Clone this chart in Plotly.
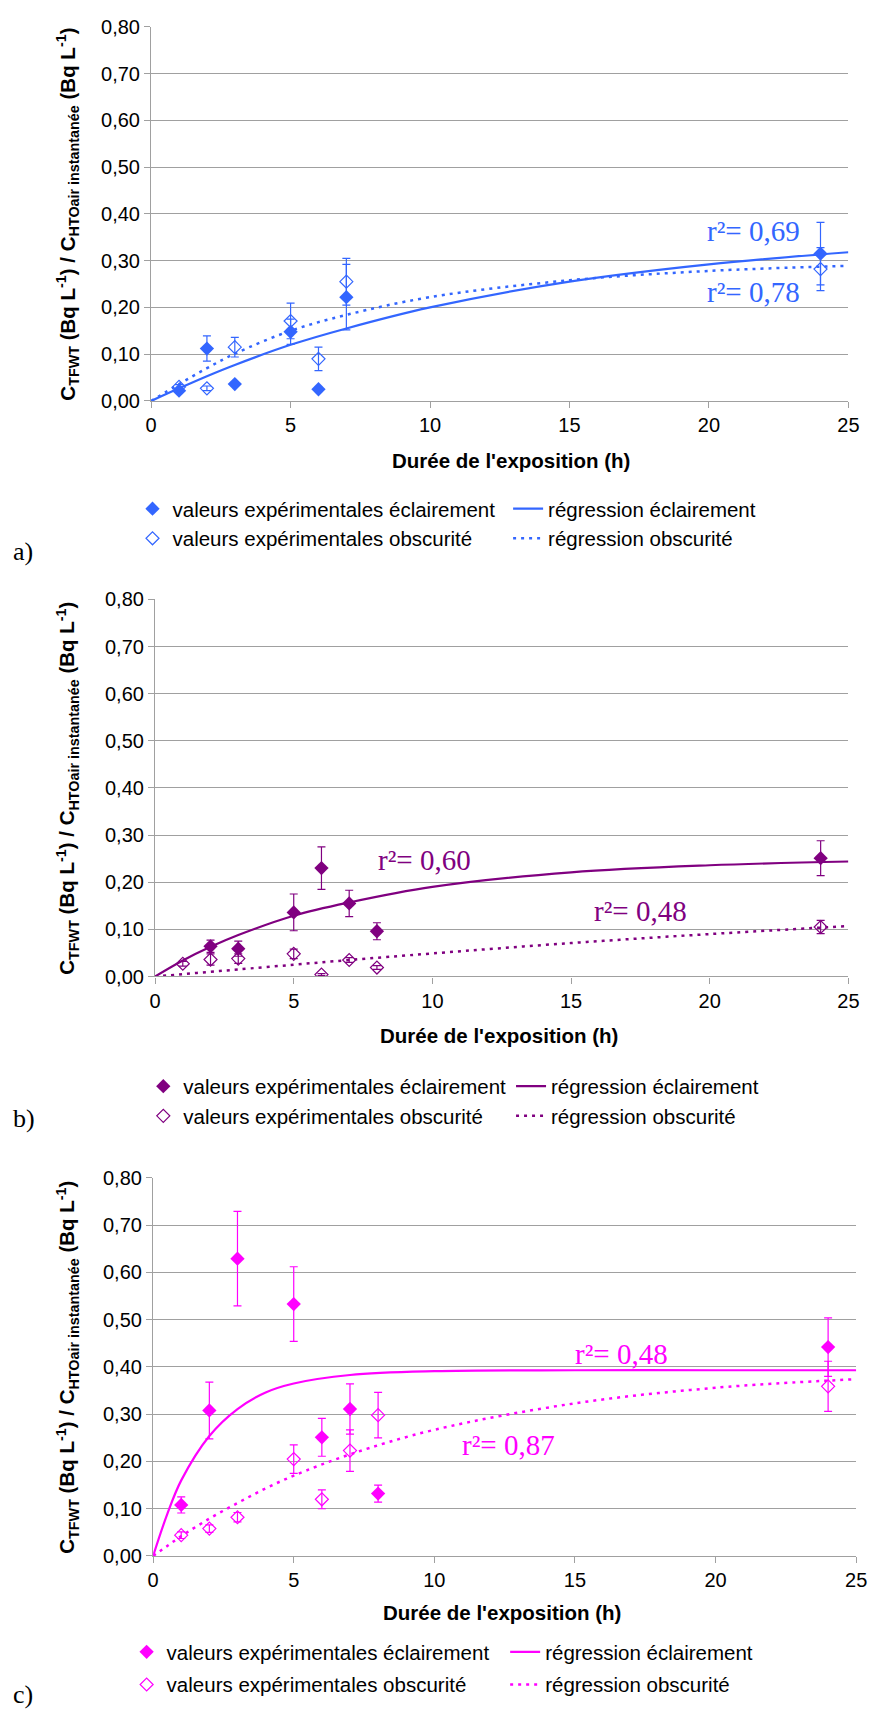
import plotly.graph_objects as go

# ---------------- data ----------------
# Panel a
a_x_light = [1, 2, 3, 5, 6, 7, 24]
a_y_light = [0.022, 0.112, 0.036, 0.148, 0.025, 0.222, 0.315]
a_e_light = [0.004, 0.027, 0.004, 0.027, 0.003, 0.070, 0.067]
a_x_dark = [1, 2, 3, 5, 6, 7, 24]
a_y_dark = [0.030, 0.027, 0.115, 0.171, 0.090, 0.255, 0.282]
a_e_dark = [0.005, 0.005, 0.021, 0.038, 0.025, 0.050, 0.046]

# Panel b
b_x_light = [2, 3, 5, 6, 7, 8, 24]
b_y_light = [0.064, 0.059, 0.136, 0.230, 0.155, 0.096, 0.251]
b_e_light = [0.013, 0.016, 0.039, 0.045, 0.028, 0.018, 0.037]
b_x_dark = [1, 2, 3, 5, 6, 7, 8, 24]
b_y_dark = [0.027, 0.036, 0.038, 0.048, 0.004, 0.035, 0.019, 0.105]
b_e_dark = [0.005, 0.012, 0.010, 0.010, 0.002, 0.005, 0.004, 0.014]

# Panel c
c_x_light = [1, 2, 3, 5, 6, 7, 8, 24]
c_y_light = [0.108, 0.308, 0.629, 0.533, 0.251, 0.311, 0.132, 0.442]
c_e_light = [0.017, 0.060, 0.100, 0.079, 0.040, 0.053, 0.018, 0.062]
c_x_dark = [1, 2, 3, 5, 6, 7, 8, 24]
c_y_dark = [0.044, 0.058, 0.082, 0.205, 0.120, 0.223, 0.298, 0.359]
c_e_dark = [0.007, 0.008, 0.010, 0.030, 0.020, 0.044, 0.048, 0.053]

# Regression curves
reg_t = [0, 1, 2, 3, 5, 7, 10, 15, 20, 25]
a_reg_light = [0, 0.027, 0.053, 0.077, 0.120, 0.155, 0.200, 0.255, 0.292, 0.318]
a_reg_dark = [0, 0.036, 0.070, 0.101, 0.150, 0.184, 0.222, 0.258, 0.278, 0.289]
b_reg_light = [0, 0.034, 0.063, 0.088, 0.129, 0.157, 0.190, 0.221, 0.236, 0.244]
b_reg_dark = [0, 0.005, 0.010, 0.015, 0.025, 0.035, 0.049, 0.071, 0.090, 0.107]
c_reg_t = [0, 0.5, 1, 2, 3, 4, 5, 7, 10, 15, 20, 25]
c_reg_light = [0, 0.088, 0.160, 0.254, 0.311, 0.346, 0.365, 0.383, 0.391, 0.393, 0.393, 0.393]
c_reg_dark = [0, 0.021, 0.042, 0.079, 0.112, 0.143, 0.170, 0.215, 0.267, 0.323, 0.356, 0.374]

r2_labels = {
    "a": ["0,69", "0,78"],
    "b": ["0,60", "0,48"],
    "c": ["0,48", "0,87"],
}

x_ticks = [0, 5, 10, 15, 20, 25]
y_ticks = [0, 0.1, 0.2, 0.3, 0.4, 0.5, 0.6, 0.7, 0.8]

names = ["valeurs expérimentales éclairement", "régression éclairement",
         "valeurs expérimentales obscurité", "régression obscurité"]

# ---------------- layout geometry ----------------
W, H = 879, 1721
def py(p):
    return 1 - p / H

panels = [
    dict(key="a", color="#3366FF", xl=148, xr=859, yt=16, yb=395,
         xs=a_x_light, ys=a_y_light, es=a_e_light,
         xo=a_x_dark, yo=a_y_dark, eo=a_e_dark,
         rt=reg_t, rl=a_reg_light, rd=a_reg_dark,
         ann=[(23.35, 0.363, "right"), (23.35, 0.232, "right")], titlex=515, titley=455,
         col1=169, col2=552, row1=500, gap=0, lab_y=547),
    dict(key="b", color="#800080", xl=152, xr=859, yt=596, yb=978,
         xs=b_x_light, ys=b_y_light, es=b_e_light,
         xo=b_x_dark, yo=b_y_dark, eo=b_e_dark,
         rt=reg_t, rl=b_reg_light, rd=b_reg_dark,
         ann=[(9.7, 0.247, "center"), (19.27, 0.138, "right")], titlex=503, titley=1038,
         col1=180, col2=555, row1=1085, gap=0, lab_y=1122),
    dict(key="c", color="#FF00FF", xl=150, xr=867, yt=1182, yb=1565,
         xs=c_x_light, ys=c_y_light, es=c_e_light,
         xo=c_x_dark, yo=c_y_dark, eo=c_e_dark,
         rt=c_reg_t, rl=c_reg_light, rd=c_reg_dark,
         ann=[(18.38, 0.428, "right"), (14.37, 0.234, "right")], titlex=506, titley=1622,
         col1=163, col2=549, row1=1658, gap=3, lab_y=1705),
]

fig = go.Figure()
annotations = []
layout = {}

grid_col = "#A0A0A0"
sans = "Liberation Sans, Arial, sans-serif"
serif = "Liberation Serif, Times New Roman, serif"
tick_font = dict(family=sans, size=20, color="#000000")

for i, p in enumerate(panels):
    n = "" if i == 0 else str(i + 1)
    xa, ya = "x" + n, "y" + n
    la = "legend" + ("" if i == 0 else str(2 * i + 1))
    lb = "legend" + str(2 * i + 2)
    col = p["color"]
    fig.add_trace(go.Scatter(
        x=p["xs"], y=p["ys"], mode="markers", name=names[0], xaxis=xa, yaxis=ya,
        legend=la, legendgroup=p["key"] + "1",
        marker=dict(symbol="diamond", size=11, color=col),
        error_y=dict(type="data", array=p["es"], color=col, thickness=1.2, width=4)))
    fig.add_trace(go.Scatter(
        x=p["xo"], y=p["yo"], mode="markers", name=names[2], xaxis=xa, yaxis=ya,
        legend=la, legendgroup=p["key"] + "2",
        marker=dict(symbol="diamond-open", size=10, color=col, line=dict(width=1.2, color=col)),
        error_y=dict(type="data", array=p["eo"], color=col, thickness=1.2, width=4)))
    fig.add_trace(go.Scatter(
        x=p["rt"], y=p["rl"], mode="lines", name=names[1], xaxis=xa, yaxis=ya,
        legend=lb, legendgroup=p["key"] + "3", line=dict(color=col, width=2.2, shape="spline")))
    fig.add_trace(go.Scatter(
        x=p["rt"], y=p["rd"], mode="lines", name=names[3], xaxis=xa, yaxis=ya,
        legend=lb, legendgroup=p["key"] + "4",
        line=dict(color=col, width=2.5, dash="3px,5px", shape="spline")))

    layout["xaxis" + n] = dict(
        domain=[p["xl"] / W, p["xr"] / W], anchor=ya, range=[0, 25],
        tickvals=x_ticks, ticks="outside", ticklen=6, tickcolor=grid_col,
        showline=True, linecolor=grid_col, linewidth=1.3, showgrid=False, zeroline=False,
        tickfont=tick_font, fixedrange=True)
    layout["yaxis" + n] = dict(
        domain=[py(p["yb"]), py(p["yt"])], anchor=xa, range=[0, 0.8],
        tickvals=y_ticks, tickformat=".2f", ticks="outside", ticklen=6, tickcolor=grid_col,
        showline=True, linecolor=grid_col, linewidth=1.3, showgrid=True, gridcolor=grid_col,
        gridwidth=1.2, zeroline=False, tickfont=tick_font, fixedrange=True)
    for lg, cx in ((la, p["col1"]), (lb, p["col2"])):
        layout[lg] = dict(
            orientation="v", x=(cx - 40) / W, xanchor="left", y=py(p["row1"] - 16), yanchor="top",
            bgcolor="rgba(0,0,0,0)", traceorder="grouped", tracegroupgap=p["gap"],
            font=dict(family=sans, size=20.5, color="#000000"), itemwidth=30)

    # r^2 annotations
    for j in range(2):
        ax, ay, anc = p["ann"][j]
        annotations.append(dict(
            x=ax, y=ay, xref=xa, yref=ya, xanchor=anc, yanchor="middle",
            text="r²= " + r2_labels[p["key"]][j], showarrow=False,
            font=dict(family=serif, size=29, color=col)))
    # y-axis title
    annotations.append(dict(
        x=63 / W, y=py((p["yt"] + p["yb"]) / 2), xref="paper", yref="paper",
        xanchor="center", yanchor="middle", textangle=-90, showarrow=False,
        text="C<sub>TFWT</sub> (Bq L<sup>-1</sup>) / C<sub>HTOair instantanée</sub> (Bq L<sup>-1</sup>)",
        font=dict(family=sans, size=20.5, color="#000000", weight="bold")))
    # x-axis title
    annotations.append(dict(
        x=p["titlex"] / W, y=py(p["titley"]), xref="paper", yref="paper",
        xanchor="center", yanchor="middle", showarrow=False,
        text="Durée de l'exposition (h)",
        font=dict(family=sans, size=20.5, color="#000000", weight="bold")))
    # panel label
    annotations.append(dict(
        x=5 / W, y=py(p["lab_y"]), xref="paper", yref="paper",
        xanchor="left", yanchor="middle", showarrow=False, text=p["key"] + ")",
        font=dict(family=serif, size=26, color="#000000")))

fig.update_layout(
    width=W, height=H, autosize=False,
    margin=dict(l=0, r=0, t=0, b=0),
    paper_bgcolor="#FFFFFF", plot_bgcolor="#FFFFFF",
    separators=", ",
    showlegend=True,
    annotations=annotations,
    **layout)

fig.write_html("out.html",
               config={"displayModeBar": False},
               post_script="document.body.style.margin='0px';document.body.style.padding='0px';"
                           "document.documentElement.style.overflow='hidden';")
